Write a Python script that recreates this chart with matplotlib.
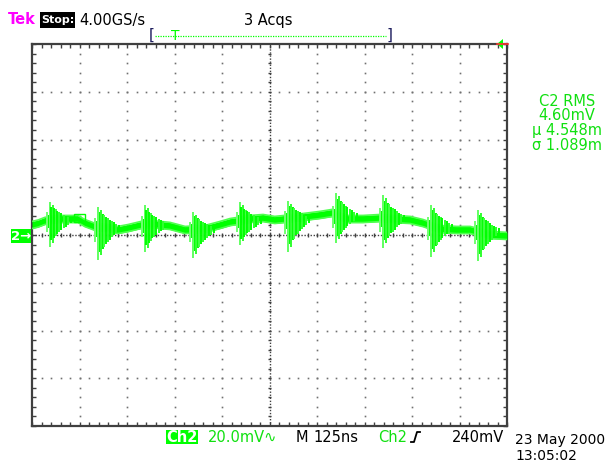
import numpy as np
import matplotlib.pyplot as plt
from matplotlib.lines import Line2D
from matplotlib.patches import Rectangle, Polygon

# Ch2 trace, 125 ns/div, 20 mV/div
base_t = [0, 16, 34, 68, 95, 121, 139, 166, 200, 226, 253, 287, 311, 363, 403, 455,
          495, 521, 574, 608, 639, 713, 758, 789, 829, 871, 916, 950, 995, 1029, 1074,
          1118, 1153, 1205, 1250]
base_v = [4.2, 4.8, 5.9, 6.7, 6.7, 6.7, 5.0, 3.4, 2.9, 2.1, 2.9, 4.2, 4.6, 3.8, 2.1, 2.5,
          4.2, 5.4, 6.7, 7.1, 6.3, 7.5, 8.4, 9.2, 6.7, 6.7, 7.1, 6.7, 6.3, 5.0, 2.5,
          2.1, 2.1, 0.0, -0.4]
band_half = 1.5

# switching bursts (ns) with peak top / bottom (mV)
burst_t = [47, 174, 297, 424, 547, 674, 800, 924, 1050, 1174]
burst_base = [6.2, 3.3, 4.2, 2.3, 6.0, 6.8, 8.0, 7.0, 3.5, 1.7]
burst_top = [13.8, 11.7, 12.6, 9.6, 13.8, 14.2, 17.6, 16.8, 12.6, 10.5]
burst_bottom = [-5.0, -10.5, -7.1, -9.6, -4.2, -7.1, -3.4, -5.4, -9.2, -10.9]

# shape of the ringing after each edge
ring_dt = [-7, -3, 0, 4, 8, 12, 16, 20, 25, 30, 36, 42, 48, 55]
ring_amp = [0.45, 0.3, 1.0, 0.75, 0.85, 0.65, 0.6, 0.5, 0.45, 0.38, 0.3, 0.24, 0.18, 0.12]
ring_col = ['#70ff70', '#00ff00', '#60ff60', '#00ff00', '#30ff30', '#00ff00', '#40ff40',
            '#00ff00', '#30ff30', '#00ff00', '#30ff30', '#00ff00', '#30ff30', '#00ff00']

W, H = 611, 463
fig = plt.figure(figsize=(W / 100, H / 100), dpi=100)
plt.rcParams['font.family'] = 'DejaVu Sans'

def fx(x):
    return x / W

def fy(y):
    return 1 - y / H

ax = fig.add_axes([fx(32), 37 / H, 475 / W, 382 / H])
ax.set_xlim(0, 1250)
ax.set_ylim(-80, 80)

green = '#00ff00'
txt_green = '#10e010'
grid_c = '#707070'

# graticule
for k in range(1, 10):
    if k == 5:
        continue
    ys = np.arange(-80, 80.1, 4)
    ax.plot([k * 125] * len(ys), ys, ls='none', marker='s', ms=1.2, mew=0, color=grid_c)
for j in [-3, -2, -1, 1, 2, 3]:
    xs = np.arange(0, 1250.1, 25)
    ax.plot(xs, [j * 20] * len(xs), ls='none', marker='s', ms=1.2, mew=0, color=grid_c)

ax.axhline(0, ls=(0, (1, 1.2)), lw=1, color='#404040')
ax.axvline(625, ls=(0, (1, 1.2)), lw=1, color='#404040')
ax.vlines(np.arange(25, 1250, 25), -0.9, 0.9, color='#404040', lw=1)
ax.hlines(np.arange(-76, 80, 4), 620, 630, color='#404040', lw=1)

for s in ax.spines.values():
    s.set_color('#404040')
    s.set_linewidth(1.6)
ax.set_xticks(np.arange(0, 1250.1, 25))
ax.set_yticks(np.arange(-80, 80.1, 4))
ax.tick_params(direction='in', length=3, width=1, color='#404040',
               labelbottom=False, labelleft=False, top=True, right=True)

# trace band
bt = np.array(base_t)
bv = np.array(base_v)
ax.fill_between(bt, bv - band_half, bv + band_half, color=green, lw=0, zorder=3)
ax.plot(bt, bv + band_half, color='#50ff50', lw=1.2, zorder=3)
ax.plot(bt, bv - band_half, color='#50ff50', lw=1.2, zorder=3)

# bursts
for t0, b, top, bot in zip(burst_t, burst_base, burst_top, burst_bottom):
    for dt, a, c in zip(ring_dt, ring_amp, ring_col):
        ax.vlines(t0 + dt, b - (b - bot) * a, b + (top - b) * a, color=c, lw=1.4, zorder=4)

# small glitch box on the trace
ax.add_patch(Rectangle((110, 5.4), 29, 3.4, fill=False, ec=green, lw=1, zorder=4))

# header
fig.text(fx(8), fy(20), 'Tek', color='#ff00ff', fontsize=10.5, fontweight='bold', va='center')
fig.add_artist(Rectangle((fx(40), fy(28)), 35 / W, 16 / H, fc='black', ec='none'))
fig.text(fx(57.5), fy(20), 'Stop:', color='white', fontsize=8, fontweight='bold',
         ha='center', va='center')
fig.text(fx(79), fy(20), '4.00GS/s', color='black', fontsize=10.5, va='center')
fig.text(fx(244), fy(20), '3 Acqs', color='black', fontsize=10.5, va='center')

fig.text(fx(149), fy(35), '[', color='#202060', fontsize=11, va='center')
fig.text(fx(387), fy(35), ']', color='#202060', fontsize=11, va='center')
fig.add_artist(Line2D([fx(155), fx(386)], [fy(36), fy(36)], color=green, lw=0.9, ls=(0, (1, 1))))
fig.text(fx(175), fy(36), 'T', color=green, fontsize=10, va='center', ha='center')

# trigger position marker
fig.add_artist(Line2D([fx(497), fx(508)], [fy(44), fy(44)], color='#ff3030', lw=1.2))
fig.add_artist(Polygon([[fx(497), fy(44)], [fx(503), fy(39)], [fx(503), fy(49)]],
                       closed=True, fc=green, ec='none'))

# measurements
for y, s in zip([101, 116, 130, 145], ['C2 RMS', '4.60mV', 'µ 4.548m', 'σ 1.089m']):
    fig.text(fx(567), fy(y), s, color=txt_green, fontsize=10.5, ha='center', va='center')

# ground marker
fig.add_artist(Rectangle((fx(11), fy(243)), 20 / W, 14 / H, fc=green, ec='none'))
fig.text(fx(21), fy(236), '2→', color='white', fontsize=9.5, fontweight='bold',
         ha='center', va='center')

# footer
fig.add_artist(Rectangle((fx(166), fy(444)), 32 / W, 14 / H, fc=green, ec='none'))
fig.text(fx(182), fy(437), 'Ch2', color='white', fontsize=10.5, fontweight='bold',
         ha='center', va='center')
fig.text(fx(208), fy(437), '20.0mV∿', color=txt_green, fontsize=10.5, va='center')
fig.text(fx(296), fy(437), 'M', color='black', fontsize=10.5, va='center')
fig.text(fx(313), fy(437), '125ns', color='black', fontsize=10.5, va='center')
fig.text(fx(378), fy(437), 'Ch2', color=txt_green, fontsize=10.5, va='center')
fig.add_artist(Line2D([fx(411), fx(414), fx(417), fx(420)],
                      [fy(442), fy(442), fy(432), fy(432)], color='black', lw=1.3))
fig.text(fx(452), fy(437), '240mV', color='black', fontsize=10.5, va='center')
fig.text(fx(515), fy(440), '23 May 2000', color='black', fontsize=10, va='center')
fig.text(fx(515), fy(456), '13:05:02', color='black', fontsize=10, va='center')

fig.savefig('out.png', dpi=100)
